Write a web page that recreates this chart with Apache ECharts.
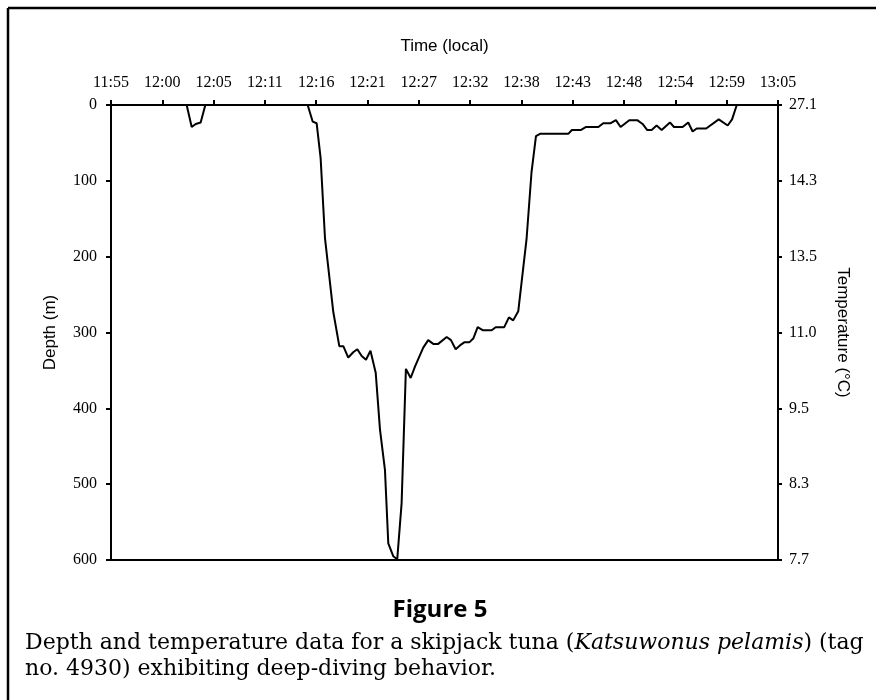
<!DOCTYPE html>
<html>
<head>
<meta charset="utf-8">
<script src="https://cdn.jsdelivr.net/npm/echarts@6/dist/echarts.min.js"></script>
<style>
  html, body { margin: 0; padding: 0; background: #fff; }
  #chart { width: 876px; height: 700px; }
</style>
</head>
<body>
<div id="chart"></div>
<script>
// Dive record: minutes elapsed after 11:55 local time, and depth in metres
const elapsedMin = [
  6.09, 7.94, 8.47, 8.89, 9.41, 9.90,
  20.64, 21.17, 21.58, 22.00, 22.46, 23.33, 23.96, 24.38, 24.90, 25.42,
  25.85, 26.31, 26.76, 27.23, 27.78, 28.23, 28.75, 29.10, 29.62, 30.04,
  30.50, 30.95, 31.45, 31.90, 32.77, 33.29, 33.82, 34.34, 35.23, 35.68,
  36.17, 36.62, 37.07, 37.60, 38.02, 38.48, 39.00, 39.95, 40.37, 41.27,
  41.76, 42.21, 42.74, 43.61, 44.13, 44.60, 45.02, 47.99, 48.37, 49.29,
  49.86, 51.15, 51.66, 52.44, 52.99, 53.48, 54.39, 55.23, 55.79, 56.28,
  56.74, 57.26, 57.79, 58.66, 59.08, 59.99, 60.58, 61.04, 61.47, 62.46,
  63.78, 64.72, 65.18, 65.67
];
const depthM = [
  0, 0, 29, 25, 23, 0,
  0, 22, 24, 70, 176, 273, 318, 318, 333, 326,
  322, 331, 336, 324, 353, 428, 481, 578, 595, 599,
  525, 348, 360, 345, 320, 310, 315, 315, 306, 310,
  322, 317, 313, 313, 308, 293, 297, 297, 293, 293,
  280, 284, 272, 177, 89, 41, 38, 38, 33, 33,
  29, 29, 24, 24, 20, 29, 20, 20, 25, 33,
  33, 27, 33, 23, 29, 29, 23, 35, 31, 31,
  19, 27, 19, 0
];

// Axis tick labels
const timeTicks = ['11:55', '12:00', '12:05', '12:11', '12:16', '12:21', '12:27',
                   '12:32', '12:38', '12:43', '12:48', '12:54', '12:59', '13:05'];
const tempTicks = ['27.1', '14.3', '13.5', '11.0', '9.5', '8.3', '7.7'];

const spanMin = 70;
const step = spanMin / (timeTicks.length - 1);
const timeTickValues = timeTicks.map((_, i) => i * step);

const serif = '"Liberation Serif", "Times New Roman", serif';
const sans = '"Liberation Sans", Arial, sans-serif';
const captionFont = '"DejaVu Serif", serif';
const captionSize = 22;

const chart = echarts.init(document.getElementById('chart'), null, { renderer: 'canvas' });

chart.setOption({
  backgroundColor: '#ffffff',
  animation: false,
  grid: { left: 111, right: 98, top: 105, bottom: 140, containLabel: false },
  xAxis: [
    {
      type: 'value',
      position: 'top',
      min: 0,
      max: spanMin,
      name: 'Time (local)',
      nameLocation: 'middle',
      nameGap: 50,
      nameTextStyle: { fontFamily: sans, fontSize: 17, color: '#000' },
      axisLine: { show: true, onZero: false, lineStyle: { color: '#000', width: 2 } },
      axisTick: { show: true, inside: false, length: 5, customValues: timeTickValues,
                  lineStyle: { color: '#000', width: 2 } },
      axisLabel: {
        customValues: timeTickValues,
        margin: 14,
        fontFamily: serif,
        fontSize: 16,
        color: '#000',
        formatter: v => timeTicks[Math.round(v / step)]
      },
      splitLine: { show: false }
    },
    {
      type: 'value',
      position: 'bottom',
      min: 0,
      max: spanMin,
      axisLine: { show: true, onZero: false, lineStyle: { color: '#000', width: 2 } },
      axisTick: { show: false },
      axisLabel: { show: false },
      splitLine: { show: false }
    }
  ],
  yAxis: [
    {
      type: 'value',
      position: 'left',
      inverse: true,
      min: 0,
      max: 600,
      interval: 100,
      name: 'Depth (m)',
      nameLocation: 'middle',
      nameGap: 52,
      nameTextStyle: { fontFamily: sans, fontSize: 17, color: '#000' },
      axisLine: { show: true, onZero: false, lineStyle: { color: '#000', width: 2 } },
      axisTick: { show: true, length: 5, lineStyle: { color: '#000', width: 2 } },
      axisLabel: { margin: 14, fontFamily: serif, fontSize: 16, color: '#000' },
      splitLine: { show: false }
    },
    {
      type: 'value',
      position: 'right',
      inverse: true,
      min: 0,
      max: 600,
      interval: 100,
      name: 'Temperature (°C)',
      nameLocation: 'middle',
      nameRotate: -90,
      nameGap: 56,
      nameTextStyle: { fontFamily: sans, fontSize: 17, color: '#000' },
      axisLine: { show: true, onZero: false, lineStyle: { color: '#000', width: 2 } },
      axisTick: { show: true, length: 4, lineStyle: { color: '#000', width: 2 } },
      axisLabel: {
        margin: 11,
        fontFamily: serif,
        fontSize: 16,
        color: '#000',
        formatter: v => tempTicks[Math.round(v / 100)]
      },
      splitLine: { show: false }
    }
  ],
  series: [
    {
      type: 'line',
      xAxisIndex: 0,
      yAxisIndex: 0,
      data: elapsedMin.map((t, i) => [t, depthM[i]]),
      showSymbol: false,
      symbol: 'none',
      lineStyle: { color: '#000', width: 2 },
      clip: false
    }
  ],
  graphic: [
    { type: 'line', shape: { x1: 8, y1: 8, x2: 876, y2: 8 },
      style: { stroke: '#000', lineWidth: 2.5 } },
    { type: 'line', shape: { x1: 8, y1: 8, x2: 8, y2: 700 },
      style: { stroke: '#000', lineWidth: 2.5 } },
    { type: 'text', x: 440, y: 610,
      style: { text: 'Figure 5', fill: '#000', font: 'bold 24px "Open Sans", "Noto Sans", sans-serif',
               textAlign: 'center', textVerticalAlign: 'middle' } },
    { type: 'text', x: 25, y: 643,
      style: {
        text: 'Depth and temperature data for a skipjack tuna ({i|Katsuwonus pelamis}) (tag',
        fill: '#000',
        font: captionSize + 'px ' + captionFont,
        textVerticalAlign: 'middle',
        rich: { i: { fontStyle: 'italic', fontFamily: captionFont, fontSize: captionSize } }
      } },
    { type: 'text', x: 25, y: 669,
      style: { text: 'no. 4930) exhibiting deep-diving behavior.', fill: '#000',
               font: captionSize + 'px ' + captionFont, textVerticalAlign: 'middle' } }
  ]
});
</script>
</body>
</html>
